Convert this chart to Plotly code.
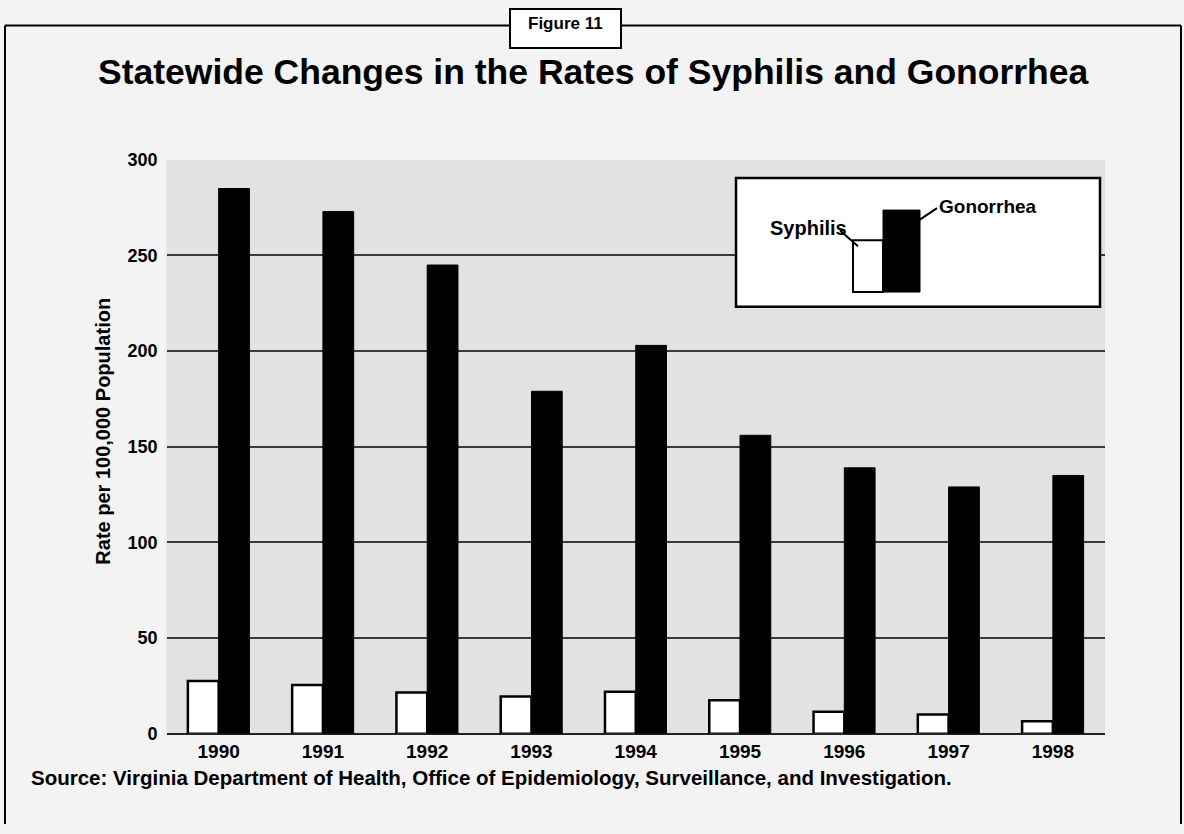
import plotly.graph_objects as go

# Figure 11 data: rates per 100,000 population, Virginia
years = ["1990", "1991", "1992", "1993", "1994", "1995", "1996", "1997", "1998"]
syphilis = [27.5, 25.5, 21.5, 19.5, 22.0, 17.5, 11.5, 10.0, 6.5]
gonorrhea = [285, 273, 245, 179, 203, 156, 139, 129, 135]
y_ticks = [0, 50, 100, 150, 200, 250, 300]

W, H = 1184, 834


def px(x):
    return x / W


def py(y):
    return 1 - y / H


SANS = "Liberation Sans, Arial, Helvetica"


def bold(size):
    return dict(family=SANS, size=size, color="black", weight="bold")


fig = go.Figure()
fig.add_trace(go.Bar(
    name="Syphilis", x=years, y=syphilis,
    marker=dict(color="white", line=dict(color="black", width=2.5)),
))
fig.add_trace(go.Bar(
    name="Gonorrhea", x=years, y=gonorrhea,
    marker=dict(color="black", line=dict(color="black", width=1)),
))

shapes = []
line_k = dict(color="black", width=2)
# outer frame, broken at the top by the figure tab
shapes.append(dict(type="line", xref="paper", yref="paper", x0=px(5), y0=py(16), x1=px(510), y1=py(16), line=line_k))
shapes.append(dict(type="line", xref="paper", yref="paper", x0=px(621), y0=py(16), x1=px(1181), y1=py(16), line=line_k))
shapes.append(dict(type="line", xref="paper", yref="paper", x0=px(5), y0=py(16), x1=px(5), y1=0, line=line_k))
shapes.append(dict(type="line", xref="paper", yref="paper", x0=px(1181), y0=py(16), x1=px(1181), y1=0, line=line_k))
shapes.append(dict(type="rect", xref="paper", yref="paper", x0=px(510), y0=py(39), x1=px(621), y1=py(-1),
                   fillcolor="white", line=line_k))

# legend panel with its two key bars and leader lines
shapes.append(dict(type="rect", xref="paper", yref="paper", x0=px(736), y0=py(304), x1=px(1100), y1=py(172),
                   fillcolor="white", line=dict(color="black", width=2.5), layer="above"))
shapes.append(dict(type="rect", xref="paper", yref="paper", x0=px(853), y0=py(289), x1=px(883), y1=py(236),
                   fillcolor="white", line=dict(color="black", width=2), layer="above"))
shapes.append(dict(type="rect", xref="paper", yref="paper", x0=px(883), y0=py(289), x1=px(920), y1=py(205),
                   fillcolor="black", line=dict(color="black", width=1), layer="above"))
shapes.append(dict(type="line", xref="paper", yref="paper", x0=px(840), y0=py(226), x1=px(858), y1=py(242),
                   line=dict(color="black", width=2), layer="above"))
shapes.append(dict(type="line", xref="paper", yref="paper", x0=px(918), y0=py(216), x1=px(937), y1=py(203),
                   line=dict(color="black", width=2), layer="above"))

annotations = [
    dict(text="Figure 11", x=px(565.5), y=py(14), xref="paper", yref="paper", showarrow=False,
         xanchor="center", yanchor="middle", font=bold(17)),
    dict(text="Statewide Changes in the Rates of Syphilis and Gonorrhea", x=px(593), y=py(64),
         xref="paper", yref="paper", showarrow=False, xanchor="center", yanchor="middle",
         font=bold(35.5)),
    dict(text="Rate per 100,000 Population", x=px(103), y=py(432), xref="paper", yref="paper",
         showarrow=False, textangle=-90, xanchor="center", yanchor="middle", font=bold(20)),
    dict(text="Source: Virginia Department of Health, Office of Epidemiology, Surveillance, and Investigation.",
         x=px(29), y=py(786), xref="paper", yref="paper", showarrow=False, xanchor="left", yanchor="middle",
         font=bold(20.5)),
    dict(text="Syphilis", x=px(809), y=py(223), xref="paper", yref="paper", showarrow=False,
         xanchor="center", yanchor="middle", font=bold(20)),
    dict(text="Gonorrhea", x=px(937), y=py(201), xref="paper", yref="paper", showarrow=False,
         xanchor="left", yanchor="middle", font=bold(19)),
]

fig.update_layout(
    width=W, height=H, autosize=False,
    margin=dict(l=0, r=0, t=0, b=0),
    paper_bgcolor="#f3f3f3",
    plot_bgcolor="#e2e2e2",
    barmode="group", bargap=0.41, bargroupgap=0,
    showlegend=False,
    shapes=shapes,
    annotations=annotations,
    xaxis=dict(
        domain=[px(166.5), px(1105)], type="category", range=[-0.5, 8.5],
        showgrid=False, showline=False, ticks="", zeroline=False,
        tickfont=bold(19),
        ticklabelstandoff=4,
    ),
    yaxis=dict(
        domain=[py(741.5), py(153.5)], range=[0, 300], tickvals=y_ticks,
        showgrid=True, gridcolor="#3a3a3a", gridwidth=1.5,
        zeroline=True, zerolinecolor="#222", zerolinewidth=2,
        showline=False, ticks="",
        tickfont=bold(18),
        ticklabelstandoff=8,
    ),
)

fig.write_html("out.html")
